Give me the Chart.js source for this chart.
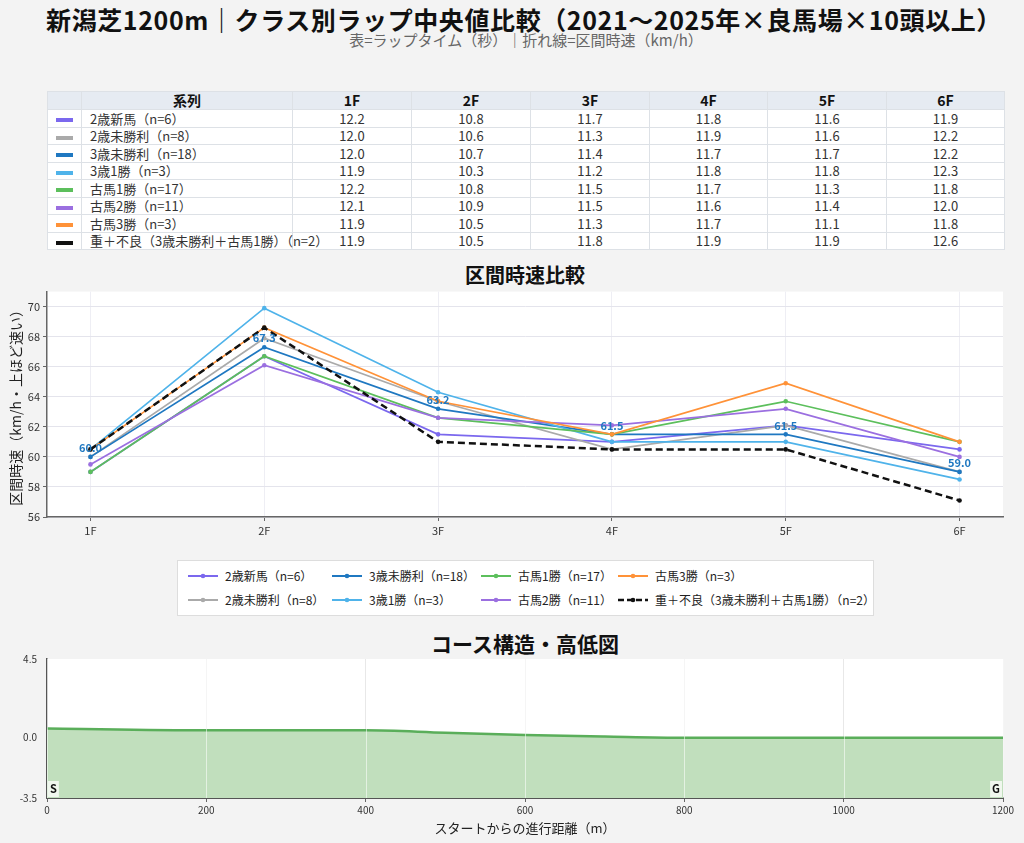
<!DOCTYPE html>
<html>
<head>
<meta charset="utf-8">
<script src="https://cdn.jsdelivr.net/npm/chart.js@4.4.1/dist/chart.umd.min.js"></script>
<style>
body{margin:0;background:#f3f3f3;font-family:"Noto Sans CJK JP","Noto Sans",sans-serif;width:1024px;height:843px;position:relative;overflow:hidden;color:#222}
.abs{position:absolute}
#title{left:12px;top:3px;width:1024px;text-align:center;font-size:25px;font-weight:bold;color:#111;line-height:32px;letter-spacing:0.6px}
#subtitle{left:14px;top:31px;width:1024px;text-align:center;font-size:15px;color:#666;line-height:18px}
.ctitle{left:47px;width:956px;text-align:center;font-weight:bold;color:#111;line-height:24px}
#lapTable{position:absolute;left:47px;top:91px;width:957px;border-collapse:collapse;font-size:13px;table-layout:fixed}
#lapTable th,#lapTable td{border:1px solid #dde1e6;padding:0;line-height:15px}
#lapTable th{background:#e6ebf2;font-weight:bold;height:17px;color:#111;font-size:14px}
#lapTable td{background:#fff;text-align:center;color:#333;height:16.5px}
#lapTable td.name{text-align:left;padding-left:8px;white-space:nowrap}
.sw{display:inline-block;width:17px;height:4px;vertical-align:middle}
#legend{left:177px;top:560px;width:697px;height:56px;background:#fff;border:1px solid #ddd;box-sizing:border-box}
.li{position:absolute;font-size:12px;color:#222;line-height:16px;white-space:nowrap}
.li svg{position:absolute;left:0;top:2px}
.li span{position:absolute;left:38px;top:0}
#lineBox{left:0;top:282px;width:1024px;height:258px}
#elevBox{left:0;top:651px;width:1024px;height:187px}
</style>
</head>
<body>
<div id="title" class="abs">新潟芝1200m｜クラス別ラップ中央値比較（2021〜2025年×良馬場×10頭以上）</div>
<div id="subtitle" class="abs">表=ラップタイム（秒）｜折れ線=区間時速（km/h）</div>

<table id="lapTable"></table>

<div class="abs ctitle" style="top:263px;font-size:20px">区間時速比較</div>
<div id="lineBox" class="abs"><canvas id="speedChart"></canvas></div>

<div id="legend" class="abs"></div>

<div class="abs ctitle" style="top:631px;font-size:21px">コース構造・高低図</div>
<div id="elevBox" class="abs"><canvas id="elevChart"></canvas></div>

<script>
// furlong labels
var furlongs = ['1F', '2F', '3F', '4F', '5F', '6F'];

// series names
var seriesNames = [
    '2歳新馬（n=6）',
    '2歳未勝利（n=8）',
    '3歳未勝利（n=18）',
    '3歳1勝（n=3）',
    '古馬1勝（n=17）',
    '古馬2勝（n=11）',
    '古馬3勝（n=3）',
    '重＋不良（3歳未勝利＋古馬1勝）（n=2）'
];
var seriesColors = ['#7b68ee', '#aaaaaa', '#1f78c1', '#4fb3ea', '#5cbf5c', '#9b6fe0', '#ff9238', '#111111'];

// lap times (sec) shown in the table
var lap2yoDebut   = [12.2, 10.8, 11.7, 11.8, 11.6, 11.9];
var lap2yoMaiden  = [12.0, 10.6, 11.3, 11.9, 11.6, 12.2];
var lap3yoMaiden  = [12.0, 10.7, 11.4, 11.7, 11.7, 12.2];
var lap3yo1win    = [11.9, 10.3, 11.2, 11.8, 11.8, 12.3];
var lapOld1win    = [12.2, 10.8, 11.5, 11.7, 11.3, 11.8];
var lapOld2win    = [12.1, 10.9, 11.5, 11.6, 11.4, 12.0];
var lapOld3win    = [11.9, 10.5, 11.3, 11.7, 11.1, 11.8];
var lapHeavy      = [11.9, 10.5, 11.8, 11.9, 11.9, 12.6];

// section speed (km/h) for the line chart
var spd2yoDebut   = [59.0, 66.7, 61.5, 61.0, 62.1, 60.5];
var spd2yoMaiden  = [60.0, 67.9, 63.7, 60.5, 62.1, 59.0];
var spd3yoMaiden  = [60.0, 67.3, 63.2, 61.5, 61.5, 59.0];
var spd3yo1win    = [60.5, 69.9, 64.3, 61.0, 61.0, 58.5];
var spdOld1win    = [59.0, 66.7, 62.6, 61.5, 63.7, 61.0];
var spdOld2win    = [59.5, 66.1, 62.6, 62.1, 63.2, 60.0];
var spdOld3win    = [60.5, 68.6, 63.7, 61.5, 64.9, 61.0];
var spdHeavy      = [60.5, 68.6, 61.0, 60.5, 60.5, 57.1];

var speedTicks = [56, 58, 60, 62, 64, 66, 68, 70];
var labeledSeries = 2; // 3歳未勝利 gets value labels

// course profile
var elevDist   = [0, 200, 400, 500, 600, 700, 800, 1000, 1200];
var elevHeight = [0.5, 0.4, 0.4, 0.26, 0.13, 0.04, -0.03, -0.03, -0.03];
var elevTicks  = [-3.5, 0.0, 4.5];
var distTicks  = [0, 200, 400, 600, 800, 1000, 1200];
var markLabels = ['S', 'G'];
var markDist   = [0, 1200];

var lapRows = [lap2yoDebut, lap2yoMaiden, lap3yoMaiden, lap3yo1win, lapOld1win, lapOld2win, lapOld3win, lapHeavy];
var spdRows = [spd2yoDebut, spd2yoMaiden, spd3yoMaiden, spd3yo1win, spdOld1win, spdOld2win, spdOld3win, spdHeavy];

var FONT = '"Noto Sans CJK JP", "Noto Sans", sans-serif';

// ---- table ----
var colW = [34, 211, 119, 119, 119, 118, 119, 118];
var html = '<colgroup>';
colW.forEach(function (w) { html += '<col style="width:' + w + 'px">'; });
html += '</colgroup><tr><th></th><th>系列</th>';
furlongs.forEach(function (f) { html += '<th>' + f + '</th>'; });
html += '</tr>';
lapRows.forEach(function (row, i) {
    html += '<tr><td><span class="sw" style="background:' + seriesColors[i] + '"></span></td>';
    html += '<td class="name">' + seriesNames[i] + '</td>';
    row.forEach(function (v) { html += '<td>' + v.toFixed(1) + '</td>'; });
    html += '</tr>';
});
document.getElementById('lapTable').innerHTML = html;

// ---- legend (column-major, 4 cols x 2 rows) ----
var legCols = [9, 153, 302, 439];
var legRows = [7, 31];
var legHtml = '';
seriesNames.forEach(function (name, i) {
    var col = Math.floor(i / 2), row = i % 2;
    var c = seriesColors[i];
    var dash = i === 7 ? ' stroke-dasharray="6,3"' : '';
    var w = i === 7 ? 2.5 : 2;
    legHtml += '<div class="li" style="left:' + legCols[col] + 'px;top:' + legRows[row] + 'px">' +
        '<svg width="32" height="12"><line x1="1" y1="6" x2="31" y2="6" stroke="' + c + '" stroke-width="' + w + '"' + dash + '/>' +
        '<circle cx="16" cy="6" r="2.3" fill="' + c + '"/></svg><span>' + name + '</span></div>';
});
document.getElementById('legend').innerHTML = legHtml;

// white plot background
var plotBg = {
    id: 'plotBg',
    beforeDraw: function (chart) {
        var a = chart.chartArea, ctx = chart.ctx;
        ctx.save();
        ctx.fillStyle = '#ffffff';
        ctx.fillRect(a.left, a.top, a.right - a.left, a.bottom - a.top);
        ctx.restore();
    }
};

// value labels on one series
var valueLabels = {
    id: 'valueLabels',
    afterDatasetsDraw: function (chart) {
        var meta = chart.getDatasetMeta(labeledSeries);
        var ctx = chart.ctx;
        ctx.save();
        ctx.font = 'bold 11px ' + FONT;
        ctx.fillStyle = seriesColors[labeledSeries];
        ctx.textAlign = 'center';
        ctx.textBaseline = 'middle';
        meta.data.forEach(function (pt, i) {
            ctx.fillText(spdRows[labeledSeries][i].toFixed(1), pt.x, pt.y - 9);
        });
        ctx.restore();
    }
};

// ---- speed line chart ----
var lineSets = spdRows.map(function (row, i) {
    var isHeavy = i === 7;
    return {
        label: seriesNames[i],
        data: row.map(function (v, k) { return { x: k, y: v }; }),
        borderColor: seriesColors[i],
        backgroundColor: seriesColors[i],
        borderWidth: isHeavy ? 2.5 : 1.7,
        borderDash: isHeavy ? [7, 4] : [],
        pointRadius: 2.3,
        pointBorderWidth: 0,
        tension: 0,
        order: spdRows.length - i
    };
});

new Chart(document.getElementById('speedChart'), {
    type: 'line',
    data: { datasets: lineSets },
    options: {
        responsive: true,
        maintainAspectRatio: false,
        animation: false,
        layout: { padding: { left: 0, right: 21, top: 0, bottom: 0 } },
        plugins: { legend: { display: false }, tooltip: { enabled: false } },
        scales: {
            x: {
                type: 'linear',
                min: -0.25,
                max: 5.25,
                afterBuildTicks: function (s) { s.ticks = furlongs.map(function (f, k) { return { value: k }; }); },
                afterFit: function (s) { s.height = 23; },
                ticks: {
                    font: { family: FONT, size: 11 }, color: '#333', padding: 3,
                    callback: function (v) { return furlongs[v]; }
                },
                grid: { color: '#eeeef4', tickLength: 4, tickColor: '#666' },
                border: { color: '#666', width: 1.5 }
            },
            y: {
                min: 56,
                max: 71,
                afterBuildTicks: function (s) { s.ticks = speedTicks.map(function (v) { return { value: v }; }); },
                afterFit: function (s) { s.width = 47; },
                ticks: { font: { family: FONT, size: 11 }, color: '#333', padding: 3 },
                grid: { color: '#e4e4ec', tickLength: 4, tickColor: '#666' },
                border: { color: '#666', width: 1.5 },
                title: {
                    display: true, text: '区間時速（km/h・上ほど速い）',
                    font: { family: FONT, size: 14 }, color: '#222', padding: { top: 7, bottom: 0 }
                }
            }
        }
    },
    plugins: [plotBg, valueLabels]
});

// S / G markers
var startGoal = {
    id: 'startGoal',
    afterDatasetsDraw: function (chart) {
        var ctx = chart.ctx, xs = chart.scales.x, a = chart.chartArea;
        // light grid lines through the fill
        ctx.save();
        ctx.strokeStyle = 'rgba(255,255,255,0.55)';
        ctx.lineWidth = 1;
        distTicks.forEach(function (d) {
            var px = Math.round(xs.getPixelForValue(d)) + 0.5;
            ctx.beginPath();
            ctx.moveTo(px, a.top);
            ctx.lineTo(px, a.bottom);
            ctx.stroke();
        });
        ctx.font = 'bold 11px ' + FONT;
        ctx.textBaseline = 'middle';
        markLabels.forEach(function (t, i) {
            var px = xs.getPixelForValue(markDist[i]);
            var w = ctx.measureText(t).width + 4;
            var bx = i === 0 ? px + 1 : px - w - 1;
            var cy = a.bottom - 9;
            ctx.fillStyle = 'rgba(255,255,255,0.75)';
            ctx.fillRect(bx, cy - 8, w, 16);
            ctx.fillStyle = '#111';
            ctx.textAlign = 'left';
            ctx.fillText(t, bx + 2, cy);
        });
        ctx.restore();
    }
};

// ---- elevation chart ----
new Chart(document.getElementById('elevChart'), {
    type: 'line',
    data: {
        datasets: [{
            data: elevDist.map(function (d, k) { return { x: d, y: elevHeight[k] }; }),
            borderColor: '#5aae5a',
            backgroundColor: '#c1dfbd',
            borderWidth: 2.5,
            pointRadius: 0,
            fill: 'start',
            cubicInterpolationMode: 'monotone'
        }]
    },
    options: {
        responsive: true,
        maintainAspectRatio: false,
        animation: false,
        layout: { padding: { left: 0, right: 21, top: 0, bottom: 0 } },
        plugins: { legend: { display: false }, tooltip: { enabled: false } },
        scales: {
            x: {
                type: 'linear',
                min: 0,
                max: 1200,
                afterBuildTicks: function (s) { s.ticks = distTicks.map(function (v) { return { value: v }; }); },
                afterFit: function (s) { s.height = 40; },
                ticks: {
                    font: { family: FONT, size: 10 }, color: '#333', padding: 2,
                    callback: function (v) { return String(v); }
                },
                grid: { color: '#e8e8e8', tickLength: 4, tickColor: '#666' },
                border: { color: '#555', width: 2 },
                title: {
                    display: true, text: 'スタートからの進行距離（m）',
                    font: { family: FONT, size: 13 }, color: '#222', padding: { top: 0, bottom: 2 }
                }
            },
            y: {
                min: -3.5,
                max: 4.5,
                afterBuildTicks: function (s) { s.ticks = elevTicks.map(function (v) { return { value: v }; }); },
                afterFit: function (s) { s.width = 47; },
                ticks: {
                    font: { family: FONT, size: 10 }, color: '#333', padding: 2,
                    callback: function (v) { return v.toFixed(1); }
                },
                grid: { display: false },
                border: { color: '#555', width: 1.5 }
            }
        }
    },
    plugins: [plotBg, startGoal]
});
</script>
</body>
</html>
